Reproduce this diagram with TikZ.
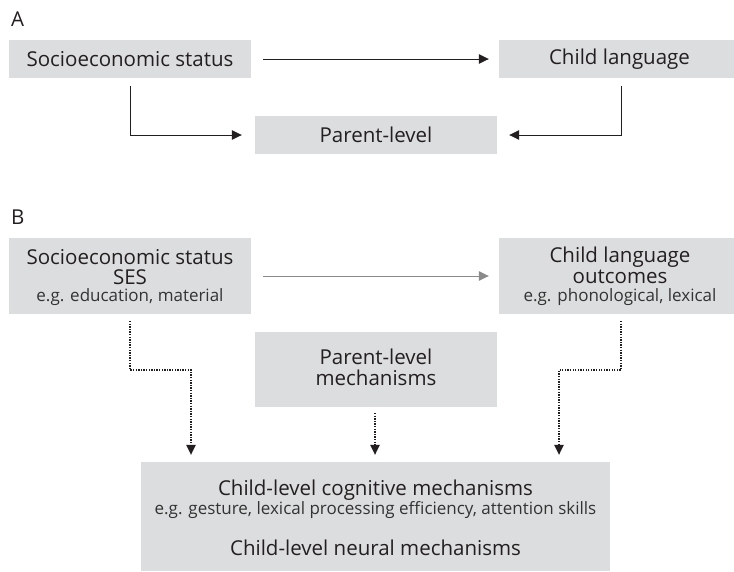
\documentclass[tikz,border=0pt]{standalone}
\usepackage{fontspec}
\setmainfont{Open Sans}
\usetikzlibrary{arrows.meta,positioning,calc}
\definecolor{boxfill}{HTML}{DCDDDF}
\definecolor{txt}{HTML}{231F20}
\definecolor{smcol}{HTML}{333333}
\definecolor{gline}{HTML}{8A8A8A}
\newcommand\bigtxt{\fontsize{20.5}{21}\selectfont}
\newcommand\smtxt{\fontsize{17}{20}\selectfont}
\begin{document}
\begin{tikzpicture}[x=1pt,y=-1pt,
  box/.style={fill=boxfill,draw=none,inner sep=0pt,text=txt,align=center,font=\bigtxt},
  plain/.style={inner sep=0pt,text=txt,align=center,font=\bigtxt},
  sm/.style={font=\smtxt,text=smcol},
  arr/.style={line width=1pt,draw=txt,-{Triangle[length=10pt,width=9.5pt]}},
  darr/.style={line width=1.2pt,draw=txt,dash pattern=on 1.3pt off 1.3pt,shorten >=7pt,-{Triangle[length=10pt,width=9.5pt]}}
]
\useasboundingbox (0,0) rectangle (734,571);
\node[anchor=west,text=txt,inner sep=0pt,font=\bigtxt] (lA) at (11,19) {A};
\node[anchor=west,text=txt,inner sep=0pt,font=\bigtxt] (lB) at (11,217) {B};

% Panel A
\node[box,minimum width=242pt,minimum height=38pt] (sesA) at (130,59) {Socioeconomic status};
\node[box,minimum width=236pt,minimum height=38pt] (childA) at (617,59) {\hspace*{5pt}Child language};
\node[box,minimum width=242pt,minimum height=38pt] (parA) at (376,135) {Parent-level};

\draw[arr] ([xshift=12pt]sesA.east) -- ([xshift=-10pt]childA.west);
\coordinate (a1) at (130,86);
\coordinate (a2) at (621,86);
\draw[arr] (a1) |- ([xshift=-13pt]parA.west);
\draw[arr] (a2) |- ([xshift=12pt]parA.east);

% Panel B
\node[box,minimum width=242pt,minimum height=76pt] (sesB) at (130,276) {};
\node[plain] (s1) at (130,257) {Socioeconomic status};
\node[plain] (s2) at (130,277) {SES};
\node[plain,sm] (s3) at (130,297) {e.g. education, material};

\node[box,minimum width=236pt,minimum height=76pt] (childB) at (617,276) {};
\node[plain] (o1) at (620,257) {Child language};
\node[plain] (o2) at (620,277) {outcomes};
\node[plain,sm] (o3) at (620,297) {e.g. phonological, lexical};

\node[box,minimum width=242pt,minimum height=75pt] (parB) at (376,369.5) {};
\node[plain] (p1) at (376,357) {Parent-level};
\node[plain] (p2) at (376,378) {mechanisms};

\node[box,minimum width=469pt,minimum height=109pt] (child) at (375.5,516.5) {};
\node[plain] (c1) at (375.5,490) {Child-level cognitive mechanisms};
\node[plain,sm] (c2) at (375.5,510) {e.g. gesture, lexical processing efficiency, attention skills};
\node[plain] (c3) at (375.5,548) {Child-level neural mechanisms};

\draw[line width=1pt,draw=gline,-{Triangle[length=10pt,width=9.5pt]}] ([xshift=12pt]sesB.east) -- ([xshift=-10pt]childB.west);

\coordinate (b1) at (130,321);
\coordinate (b2) at (191,370);
\coordinate (b3) at (621,321);
\coordinate (b4) at (559,370);
\coordinate (b5) at (375,413);
\draw[darr] (b1) |- (b2) -- (b2 |- child.north);
\draw[darr] (b3) |- (b4) -- (b4 |- child.north);
\draw[darr] (b5) -- (b5 |- child.north);
\end{tikzpicture}
\end{document}
